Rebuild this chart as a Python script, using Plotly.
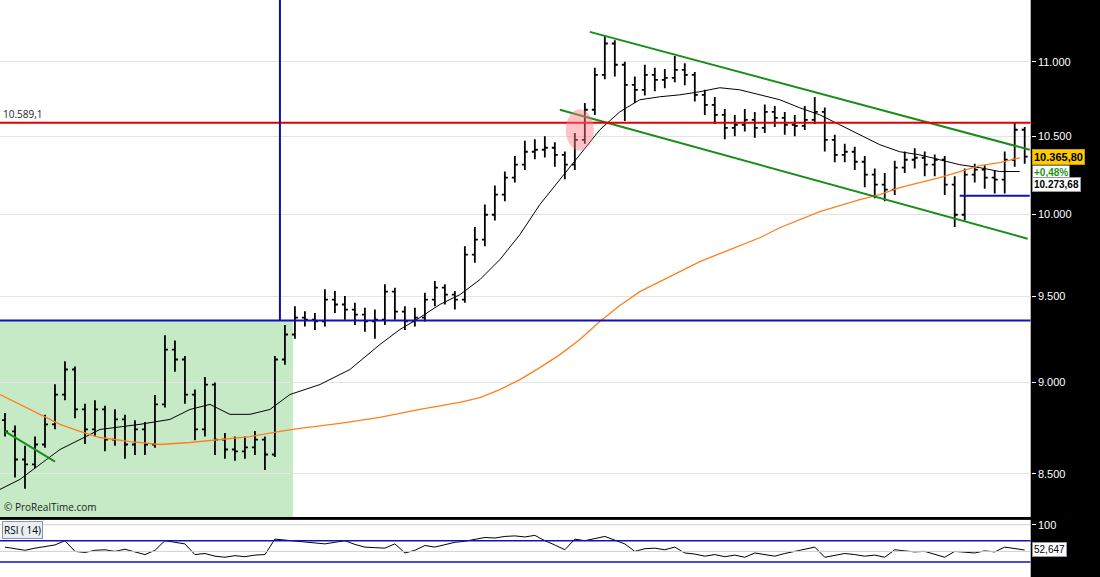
import plotly.graph_objects as go
from plotly.subplots import make_subplots
import math

# price bars (one bar per bucket)
opens = [8790, 8728, 8576, 8550, 8657, 8767, 8932, 9073, 8849, 8739, 8849, 8684, 8794, 8657, 8739, 8657, 8877, 9187, 9130, 8932,
         8739, 8988, 8684, 8630, 8620, 8641, 8684, 8603, 9130, 9274, 9373, 9361, 9350, 9479, 9450, 9420, 9390, 9350, 9361, 9526,
         9408, 9350, 9373, 9479, 9550, 9508, 9479, 9750, 9841, 9996, 10122, 10231, 10314, 10398, 10411, 10424, 10378, 10314, 10476, 10675,
         10911, 11127, 10980, 10843, 10809, 10911, 10877, 10890, 10945, 10911, 10775, 10708, 10641, 10555, 10575, 10608, 10555, 10661, 10621, 10575,
         10568, 10608, 10661, 10476, 10378, 10398, 10333, 10250, 10186, 10154, 10295, 10346, 10359, 10314, 10346, 10186, 9996, 10250, 10282, 10231,
         10218, 10346, 10542]
highs = [8830, 8760, 8650, 8700, 8820, 8990, 9120, 9090, 8880, 8900, 8870, 8850, 8820, 8790, 8780, 8930, 9270, 9240, 9150, 8960,
         9030, 9000, 8720, 8700, 8700, 8730, 8700, 9150, 9330, 9440, 9410, 9400, 9540, 9530, 9500, 9460, 9430, 9420, 9570, 9550,
         9440, 9430, 9520, 9590, 9570, 9530, 9800, 9920, 10060, 10180, 10270, 10370, 10470, 10480, 10500, 10460, 10400, 10520, 10720, 10960,
         11180, 11150, 11000, 10900, 10980, 10960, 10950, 11040, 10990, 10930, 10810, 10760, 10680, 10640, 10680, 10660, 10710, 10700, 10660, 10640,
         10700, 10760, 10690, 10510, 10450, 10430, 10370, 10290, 10260, 10340, 10400, 10420, 10400, 10380, 10370, 10240, 10290, 10320, 10310, 10280,
         10400, 10590, 10560]
lows = [8700, 8480, 8420, 8530, 8640, 8740, 8900, 8800, 8660, 8700, 8620, 8650, 8580, 8600, 8600, 8640, 8860, 9060, 8880, 8680,
        8700, 8600, 8580, 8570, 8580, 8600, 8520, 8590, 9100, 9250, 9320, 9300, 9320, 9400, 9360, 9330, 9290, 9250, 9330, 9360,
        9300, 9320, 9350, 9440, 9450, 9420, 9460, 9700, 9800, 9960, 10080, 10200, 10280, 10350, 10360, 10300, 10220, 10280, 10450, 10640,
        10880, 10900, 10600, 10720, 10770, 10800, 10820, 10860, 10840, 10730, 10640, 10580, 10480, 10500, 10530, 10490, 10520, 10560, 10510, 10500,
        10540, 10580, 10400, 10330, 10330, 10280, 10170, 10100, 10080, 10120, 10260, 10290, 10240, 10240, 10120, 9920, 9960, 10200, 10160, 10130,
        10130, 10300, 10320]
closes = opens[1:] + [10366]
bar_x = list(range(len(opens)))

# moving averages
ma_fast_x = [-0.5, 1.5, 3.5, 5.5, 7.5, 9.5, 13.5, 16.5, 18.5, 20.5, 22.5, 24.5, 26.5, 28.5, 31.5, 34.5, 37.5, 39.5] + [41.5 + 2 * k for k in range(31)]
ma_fast = [8417, 8470, 8550, 8630, 8684, 8739, 8767, 8794, 8849, 8877, 8822, 8822, 8849, 8932, 8988, 9073, 9216, 9303,
           9373, 9450, 9508, 9598, 9719, 9872, 10060, 10218, 10378, 10542, 10661, 10742, 10762, 10775, 10796, 10823, 10809, 10775,
           10742, 10688, 10641, 10575, 10509, 10444, 10398, 10378, 10346, 10314, 10295, 10270, 10270]
ma_slow_x = [-0.5, 1.5, 3.5, 5.5, 7.5, 9.5, 12.5, 15.5, 18.5, 21.5, 24.5, 27.5, 29.5, 33.5, 37.5, 41.5, 45.5] + [47.5 + 2 * k for k in range(28)]
ma_slow = [8932, 8877, 8822, 8767, 8728, 8695, 8673, 8657, 8668, 8684, 8700, 8728, 8745, 8772, 8805, 8849, 8888,
           8915, 8960, 9016, 9084, 9158, 9245, 9350, 9444, 9526, 9586, 9646, 9707, 9756, 9804, 9853, 9915, 9965, 10015,
           10053, 10091, 10122, 10167, 10199, 10231, 10270, 10308, 10327, 10359]

rsi = [58, 55, 52, 56, 59, 62, 70, 50, 48, 52, 53, 50, 54, 49, 44, 52, 70, 67, 64, 44,
       46, 41, 39, 42, 40, 43, 44, 73, 71, 70, 68, 66, 64, 67, 70, 63, 58, 57, 56, 64,
       47, 52, 61, 58, 63, 67, 69, 73, 76, 75, 78, 79, 77, 80, 70, 62, 53, 73, 70, 74,
       78, 71, 64, 50, 55, 56, 53, 58, 47, 45, 41, 44, 40, 43, 39, 47, 44, 41, 46, 50,
       54, 58, 39, 43, 46, 44, 41, 43, 39, 53, 51, 49, 50, 45, 39, 50, 48, 47, 51, 49,
       58, 55, 52.6]

# drawn objects
upper_chan = ([58.5, 102.5], [11208, 10411])
lower_chan = ([55.5, 102.3], [10675, 9847])
small_green = ([0, 5], [8728, 8565])
red_level = 10589.1
blue_level = 9355
blue_vline_x = 27.5
support_short = ([95.5, 102.5], 10116)
shade_end = 28.8
circle_center = (57.5, 10542)

y_ticks = [8500, 9000, 9500, 10000, 10500, 11000]
y_labels = ["8.500", "9.000", "9.500", "10.000", "10.500", "11.000"]

fig = make_subplots(rows=2, cols=1, shared_xaxes=True)

fig.add_trace(go.Ohlc(x=bar_x, open=opens, high=highs, low=lows, close=closes,
                      increasing_line_color="black", decreasing_line_color="black",
                      line_width=1.8, tickwidth=0.3, showlegend=False), row=1, col=1)
fig.add_trace(go.Scatter(x=ma_fast_x, y=ma_fast, mode="lines", line=dict(color="black", width=1), showlegend=False), row=1, col=1)
fig.add_trace(go.Scatter(x=ma_slow_x, y=ma_slow, mode="lines", line=dict(color="#ff7f1e", width=1.3), showlegend=False), row=1, col=1)

for xs, ys in [upper_chan, lower_chan, small_green]:
    fig.add_trace(go.Scatter(x=xs, y=ys, mode="lines", line=dict(color="#1a8c1a", width=2), showlegend=False), row=1, col=1)
fig.add_trace(go.Scatter(x=support_short[0], y=[support_short[1]] * 2, mode="lines",
                         line=dict(color="#1010b0", width=2), showlegend=False), row=1, col=1)

fig.add_trace(go.Scatter(x=bar_x, y=rsi, mode="lines", line=dict(color="black", width=1), showlegend=False), row=2, col=1)

x_range = [-0.5, 102.6]
ymin, ymax = 8273, 11434

# shaded zone and level lines
fig.add_shape(type="rect", xref="x", yref="y", x0=-0.5, x1=shade_end, y0=ymin, y1=blue_level,
              fillcolor="#c6eac6", line_width=0, layer="below")
fig.add_shape(type="line", xref="x", yref="y", x0=x_range[0], x1=x_range[1], y0=red_level, y1=red_level,
              line=dict(color="#e00000", width=2))
fig.add_shape(type="line", xref="x", yref="y", x0=x_range[0], x1=x_range[1], y0=blue_level, y1=blue_level,
              line=dict(color="#1010c0", width=2))
fig.add_shape(type="line", xref="x", yref="y", x0=blue_vline_x, x1=blue_vline_x, y0=blue_level, y1=ymax,
              line=dict(color="#1010a0", width=2))
cx, cy = circle_center
fig.add_shape(type="circle", xref="x", yref="y", x0=cx - 1.4, x1=cx + 1.4,
              y0=cy * 0.987, y1=cy * 1.013, fillcolor="rgba(255,120,130,0.45)", line_width=0)
for lvl in [70, 30]:
    fig.add_shape(type="line", xref="x2", yref="y2", x0=x_range[0], x1=x_range[1], y0=lvl, y1=lvl,
                  line=dict(color="#1010c0", width=1.5))
for lvl in [50, 100]:
    fig.add_shape(type="line", xref="x2", yref="y2", x0=x_range[0], x1=x_range[1], y0=lvl, y1=lvl,
                  line=dict(color="#d0d0d0", width=1))

fig.update_xaxes(range=x_range, showticklabels=False, showgrid=False, zeroline=False,
                 rangeslider_visible=False, domain=[0, 0.937])
fig.update_yaxes(type="log", range=[math.log10(ymin), math.log10(ymax)], side="right", domain=[0.104, 1],
                 tickvals=y_ticks, ticktext=y_labels, showgrid=True, gridcolor="#e4e4e4",
                 ticks="outside", tickcolor="white", ticklen=4,
                 tickfont=dict(color="white", size=11, family="Arial"), row=1, col=1)
fig.update_yaxes(range=[2, 109], side="right", tickvals=[0, 100], ticktext=["0", "100"], domain=[0, 0.099],
                 showgrid=False, zeroline=False, ticks="outside", tickcolor="white", ticklen=4,
                 tickfont=dict(color="white", size=11, family="Arial"), row=2, col=1)

ly = math.log10
fig.add_annotation(x=0.001, y=ly(red_level), xref="paper", yref="y", text="10.589,1", showarrow=False,
                   xanchor="left", yanchor="bottom", font=dict(size=10, color="#222"))
fig.add_annotation(x=0.002, y=0.105, xref="paper", yref="paper", text="© ProRealTime.com", showarrow=False,
                   xanchor="left", yanchor="bottom", font=dict(size=10, color="#222"))
fig.add_annotation(x=0.002, y=0.097, xref="paper", yref="paper", text="RSI ( 14)", showarrow=False,
                   xanchor="left", yanchor="top", bgcolor="#e8eef4", bordercolor="#8899aa", borderwidth=1,
                   font=dict(size=10, color="black"))

# last value boxes
fig.add_annotation(x=0.9385, y=ly(10366), xref="paper", yref="y", text="<b>10.365,80</b>", showarrow=False,
                   xanchor="left", bgcolor="#ffcc00", bordercolor="#cc9900", borderpad=1,
                   font=dict(size=11, color="black", family="Arial"))
fig.add_annotation(x=0.9385, y=ly(10262), xref="paper", yref="y", text="<b>+0,48%</b>", showarrow=False,
                   xanchor="left", bgcolor="white", font=dict(size=10, color="#1a9a1a", family="Arial"))
fig.add_annotation(x=0.9385, y=ly(10185), xref="paper", yref="y", text="<b>10.273,68</b>", showarrow=False,
                   xanchor="left", bgcolor="white", bordercolor="#999", font=dict(size=10, color="black", family="Arial"))
fig.add_annotation(x=0.9385, y=rsi[-1], xref="paper", yref="y2", text="52,647", showarrow=False,
                   xanchor="left", bgcolor="white", bordercolor="#999", font=dict(size=10, color="black", family="Arial"))

fig.update_layout(width=1100, height=577, margin=dict(l=0, r=0, t=0, b=0, autoexpand=False),
                  paper_bgcolor="black", plot_bgcolor="white")
fig.write_html("out.html", config={"displayModeBar": False},
               post_script="document.body.style.margin='0';")
